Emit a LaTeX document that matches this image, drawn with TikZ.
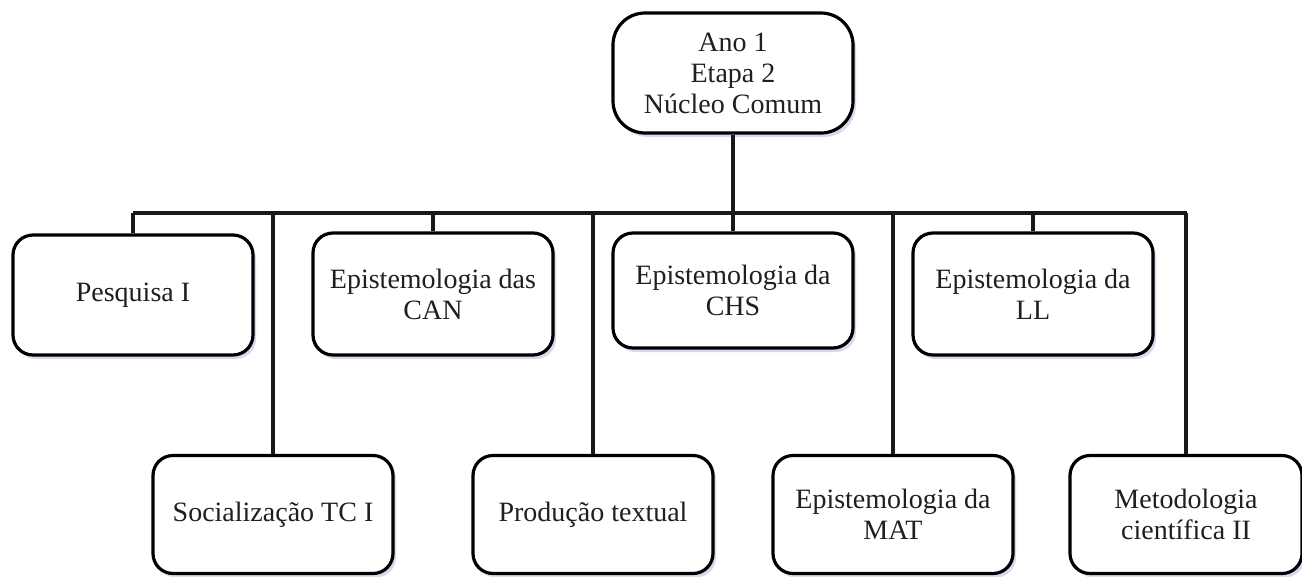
\documentclass[tikz,border=0pt]{standalone}
\usepackage{fontspec}
\setmainfont{Liberation Serif}
\newfontfamily\timesx{Liberation Serif}
\usetikzlibrary{shadows}
\begin{document}
\begin{tikzpicture}[x=1pt,y=-1pt,
  box/.style={draw=black, line width=3.2pt, fill=white, rounded corners=20pt,
    minimum width=240pt, align=center, inner sep=2pt,
    font=\timesx\fontsize{28}{31}\selectfont, text=black!88,
    drop shadow={shadow xshift=3pt, shadow yshift=-4pt, opacity=0.22, fill=blue!40!gray}},
  conn/.style={line width=3.2pt, draw=black!90}]
\useasboundingbox (0,0) rectangle (1302,576);

\node[box, rounded corners=32pt, minimum height=120pt] (top) at (733,73) {Ano 1\\Etapa 2\\Núcleo Comum};

\coordinate (busL) at (133,213);
\coordinate (busR) at (1187,213);

\node[box, minimum height=120pt] (pesq) at (133,295) {Pesquisa I};
\node[box, minimum height=122pt] (can) at (433,294) {Epistemologia das\\CAN};
\node[box, minimum height=115pt] (chs) at (733,290.5) {Epistemologia da\\CHS};
\node[box, minimum height=122pt] (ll) at (1033,294) {Epistemologia da\\LL};

\node[box, minimum height=118pt] (soc) at (273,514.5) {Socialização TC I};
\node[box, minimum height=118pt] (prod) at (593,514.5) {Produção textual};
\node[box, minimum height=118pt] (mat) at (893,514.5) {Epistemologia da\\MAT};
\node[box, minimum height=118pt, minimum width=232pt] (met) at (1186,514.5) {Metodologia\\científica II};

\draw[conn] (busL) -- (busR);
\draw[conn] (top.south) -- (top.south |- busL);
\draw[conn] (pesq.north |- busL) -- (pesq.north);
\draw[conn] (can.north |- busL) -- (can.north);
\draw[conn] (chs.north |- busL) -- (chs.north);
\draw[conn] (ll.north |- busL) -- (ll.north);
\draw[conn] (soc.north |- busL) -- (soc.north);
\draw[conn] (prod.north |- busL) -- (prod.north);
\draw[conn] (mat.north |- busL) -- (mat.north);
\draw[conn] (met.north |- busL) -- (met.north);
\end{tikzpicture}
\end{document}
